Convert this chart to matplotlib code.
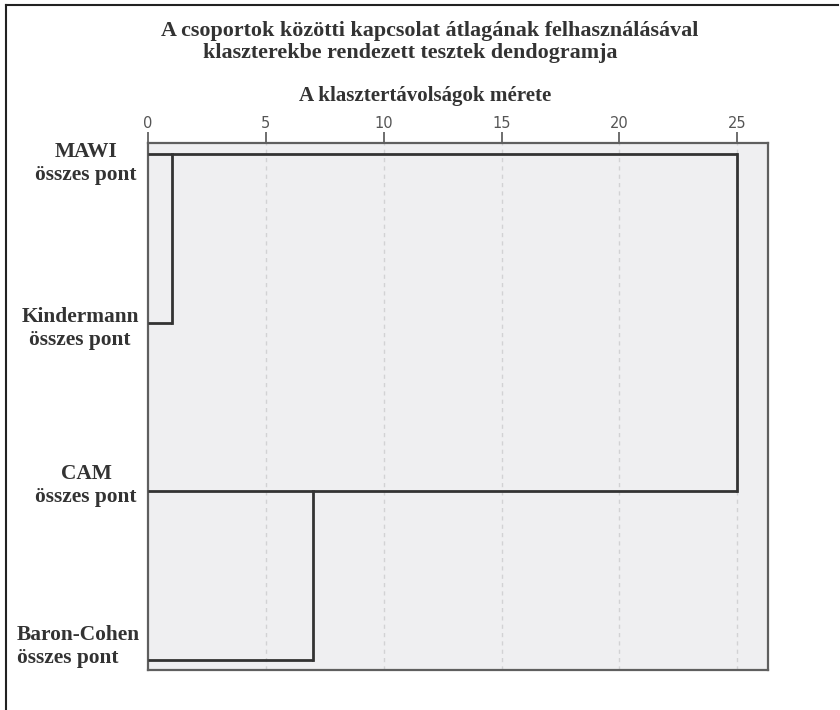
import matplotlib
matplotlib.use("Agg")
import matplotlib.pyplot as plt
from matplotlib.lines import Line2D
from matplotlib.transforms import blended_transform_factory

# leaves, top to bottom
leaves = ["MAWI\nösszes pont", "Kindermann\nösszes pont", "CAM\nösszes pont", "Baron-Cohen\nösszes pont"]
leaf_pos = [0, 1, 2, 3]

# merges: (row a, row b, distance) on the rescaled 0-25 axis
merge_a = [0, 2, 0]
merge_b = [1, 3, 2]
merge_h = [1.0, 7.0, 25.0]

xticks = [0, 5, 10, 15, 20, 25]

LINE = "#333333"
FRAME = "#5f5f5f"
PANEL = "#efeff1"
GRIDC = "#d2d2d4"
TICKC = "#555555"
INK = "#333333"
SERIF = ["Liberation Serif", "DejaVu Serif"]

fig = plt.figure(figsize=(8.4, 7.1), dpi=100)
ax = fig.add_axes([148 / 840, 1 - 670 / 710, 620 / 840, 527 / 710])
ax.set_facecolor(PANEL)

# x where each row's cluster line currently ends (starts at 0 for leaves)
row_end = {p: 0.0 for p in leaf_pos}
for a, b, h in zip(merge_a, merge_b, merge_h):
    ax.plot([row_end[a], h], [a, a], color=LINE, lw=2, solid_capstyle="butt", zorder=3)
    ax.plot([row_end[b], h], [b, b], color=LINE, lw=2, solid_capstyle="butt", zorder=3)
    ax.plot([h, h], [a, b], color=LINE, lw=2, solid_capstyle="projecting", zorder=3)
    row_end[a] = h

ax.set_xlim(0, 26.3)
ax.set_ylim(3.06, -0.065)
ax.set_xticks(xticks)
ax.xaxis.tick_top()
ax.tick_params(axis="x", direction="out", length=8, width=1.2, color=TICKC,
               labelcolor=TICKC, labelsize=10.5, pad=0.5)
ax.set_yticks([])
for t in xticks[1:]:
    ax.axvline(t, color=GRIDC, lw=1, ls=(0, (3, 3)), zorder=1)
for s in ax.spines.values():
    s.set_color(FRAME)
    s.set_linewidth(1.6)

# leaf labels, left of the panel
label_tr = blended_transform_factory(fig.transFigure, ax.transData)
label_dy = [0.056, 0.033, -0.036, -0.08]
label_align = ["center", "center", "center", "left"]
label_x = [86, 80, 86, 17]
for lab, p, dy, al, lx in zip(leaves, leaf_pos, label_dy, label_align, label_x):
    fig.text(lx / 840, p + dy, lab, ha=al, va="center", multialignment=al,
             fontsize=15.4, fontweight="bold", family=SERIF, color=INK,
             linespacing=1.18, transform=label_tr)

fig.text(430 / 840, 1 - 31 / 710, "A csoportok közötti kapcsolat átlagának felhasználásával",
         ha="center", va="center", fontsize=15.8, fontweight="bold", family=SERIF, color=INK)
fig.text(410 / 840, 1 - 53 / 710, "klaszterekbe rendezett tesztek dendogramja",
         ha="center", va="center", fontsize=15.8, fontweight="bold", family=SERIF, color=INK)
fig.text(425 / 840, 1 - 96 / 710, "A klasztertávolságok mérete", ha="center", va="center",
         fontsize=15.1, fontweight="bold", family=SERIF, color=INK)

# outer frame
fig.add_artist(Line2D([6 / 840, 6 / 840], [0, 1 - 5 / 710], transform=fig.transFigure, color="#222222", lw=1.5))
fig.add_artist(Line2D([6 / 840, 838 / 840], [1 - 5 / 710, 1 - 5 / 710], transform=fig.transFigure, color="#222222", lw=1.5))

fig.savefig("out.png", dpi=100, facecolor="white")
